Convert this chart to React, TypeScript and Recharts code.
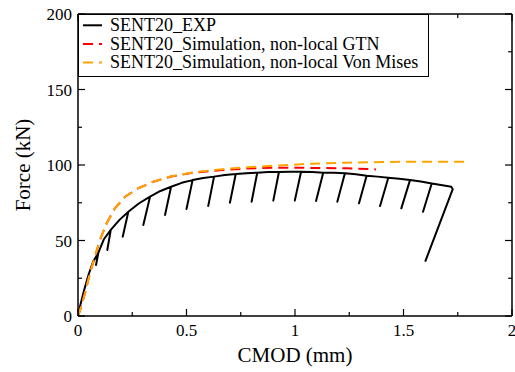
import React from 'react';
import { LineChart, Line, XAxis, YAxis } from 'recharts';

const FONT = '"Liberation Serif", "Times New Roman", Times, serif';

// SENT20_EXP (envelope with unloading/reloading segments)
const expCmod = [
  0, 0.012, 0.03, 0.05, 0.07,
  0.094, 0.083, 0.094,
  0.12,
  0.151, 0.135, 0.151,
  0.19,
  0.232, 0.206, 0.232,
  0.28,
  0.332, 0.301, 0.332,
  0.38,
  0.429, 0.401, 0.429,
  0.478,
  0.528, 0.5, 0.528,
  0.577,
  0.627, 0.6, 0.627,
  0.677,
  0.727, 0.7, 0.727,
  0.776,
  0.826, 0.8, 0.826,
  0.876,
  0.926, 0.9, 0.926,
  0.976,
  1.028, 0.999, 1.028,
  1.08,
  1.13, 1.097, 1.13,
  1.18,
  1.23, 1.195, 1.23,
  1.28,
  1.33, 1.295, 1.33,
  1.38,
  1.43, 1.392, 1.43,
  1.48,
  1.53, 1.49, 1.53,
  1.58,
  1.63, 1.59, 1.63,
  1.68, 1.72, 1.727, 1.6,
];
const expForce = [
  0, 8, 18, 28, 36,
  42, 33.8, 42,
  51,
  57, 43.7, 57,
  63.5,
  69, 52.5, 69,
  74.5,
  79, 60.3, 79,
  82.8,
  85.6, 66.9, 85.6,
  88.2,
  90, 70.9, 90,
  91.4,
  92.3, 72.8, 92.3,
  93.4,
  94, 75, 94,
  94.6,
  94.9, 75.7, 94.9,
  95.3,
  95.4, 76.4, 95.4,
  95.6,
  95.5, 76.4, 95.5,
  95.3,
  94.9, 76.2, 94.9,
  94.8,
  94.5, 75.7, 94.5,
  93.8,
  92.9, 74.6, 92.9,
  92.3,
  91.6, 72.8, 91.6,
  90.9,
  90, 71.3, 90,
  89,
  87.8, 69, 87.8,
  86.6, 85.6, 84, 36,
];

// SENT20_Simulation, non-local GTN
const gtnCmod = [0, 0.01, 0.032, 0.055, 0.078, 0.101, 0.132, 0.17, 0.217, 0.278, 0.347, 0.424, 0.531, 0.654, 0.777, 0.9, 1.054, 1.238, 1.373];
const gtnForce = [0, 4, 15, 28.3, 39.3, 50.3, 61.4, 71.3, 79, 84.6, 88.9, 92.2, 94.9, 96.6, 97.6, 98.2, 98.1, 97.8, 97.1];

// SENT20_Simulation, non-local Von Mises
const vmCmod = [0, 0.01, 0.032, 0.055, 0.078, 0.101, 0.132, 0.17, 0.217, 0.278, 0.347, 0.424, 0.531, 0.654, 0.777, 0.9, 1.054, 1.238, 1.4, 1.545, 1.803];
const vmForce = [0, 4, 15, 28.3, 39.3, 50.3, 61.4, 71.3, 79, 84.6, 88.9, 92.3, 95.2, 97.1, 98.5, 99.5, 100.7, 101.5, 102, 102.2, 102.2];

const xTicks = [0, 0.25, 0.5, 0.75, 1, 1.25, 1.5, 1.75, 2];
const yTicks = [0, 25, 50, 75, 100, 125, 150, 175, 200];
const xMajor = [0, 0.5, 1, 1.5, 2];
const yMajor = [0, 50, 100, 150, 200];

const seriesNames = ['SENT20_EXP', 'SENT20_Simulation, non-local GTN', 'SENT20_Simulation, non-local Von Mises'];
const seriesColors = ['#000000', '#ff0000', '#ffa500'];
const seriesDash = [undefined, '10 6', '10 6'];

const toData = (xs: number[], ys: number[]) => xs.map((x, i) => ({ x, y: ys[i] }));
const expData = toData(expCmod, expForce);
const gtnData = toData(gtnCmod, gtnForce);
const vmData = toData(vmCmod, vmForce);

const isMajor = (v: number, majors: number[]) => majors.some((m) => Math.abs(m - v) < 1e-9);
const MAJOR = 7;
const MINOR = 4;

const BottomTick = (props: any) => {
  const { x, y, payload } = props;
  const v = payload.value;
  const major = isMajor(v, xMajor);
  return (
    <g>
      <line x1={x} y1={y} x2={x} y2={y - (major ? MAJOR : MINOR)} stroke="#000" strokeWidth={1.2} />
      {major && (
        <text x={x} y={y + 20} textAnchor="middle" fontSize={17} fontFamily={FONT} fill="#000">
          {String(v)}
        </text>
      )}
    </g>
  );
};

const TopTick = (props: any) => {
  const { x, y, payload } = props;
  const major = isMajor(payload.value, xMajor);
  return <line x1={x} y1={y} x2={x} y2={y + (major ? MAJOR : MINOR)} stroke="#000" strokeWidth={1.2} />;
};

const LeftTick = (props: any) => {
  const { x, y, payload } = props;
  const v = payload.value;
  const major = isMajor(v, yMajor);
  return (
    <g>
      <line x1={x} y1={y} x2={x + (major ? MAJOR : MINOR)} y2={y} stroke="#000" strokeWidth={1.2} />
      {major && (
        <text x={x - 6} y={y + 6} textAnchor="end" fontSize={17} fontFamily={FONT} fill="#000">
          {String(v)}
        </text>
      )}
    </g>
  );
};

const RightTick = (props: any) => {
  const { x, y, payload } = props;
  const major = isMajor(payload.value, yMajor);
  return <line x1={x} y1={y} x2={x - (major ? MAJOR : MINOR)} y2={y} stroke="#000" strokeWidth={1.2} />;
};

const XLabel = (props: any) => {
  const vb = props.viewBox || { x: 78, y: 316, width: 434, height: 50 };
  return (
    <text x={vb.x + vb.width / 2} y={vb.y + 46} textAnchor="middle" fontSize={21} fontFamily={FONT} fill="#000">
      CMOD (mm)
    </text>
  );
};

const YLabel = (props: any) => {
  const vb = props.viewBox || { x: 18, y: 14, width: 60, height: 302 };
  const cx = vb.x + 12;
  const cy = vb.y + vb.height / 2;
  return (
    <text x={cx} y={cy} transform={`rotate(-90 ${cx} ${cy})`} textAnchor="middle" fontSize={21} fontFamily={FONT} fill="#000">
      Force (kN)
    </text>
  );
};

const LegendBox = () => (
  <div style={{ position: 'absolute', left: 78, top: 14, width: 351, height: 63 }}>
    <svg width={351} height={63}>
      <rect x={0.5} y={0.5} width={350} height={62} fill="#fff" stroke="#000" strokeWidth={1} />
      {seriesNames.map((name, i) => {
        const cy = 11.3 + i * 18.6;
        return (
          <g key={name}>
            <line x1={5} y1={cy} x2={24} y2={cy} stroke={seriesColors[i]} strokeWidth={2} strokeDasharray={seriesDash[i]} />
            <text x={32} y={cy + 5.8} fontSize={18} fontFamily={FONT} fill="#000">
              {name}
            </text>
          </g>
        );
      })}
    </svg>
  </div>
);

export default function App() {
  return (
    <div style={{ position: 'absolute', left: 0, top: 0, width: 515, height: 372, background: '#fff' }}>
      <LineChart width={515} height={372} margin={{ top: 4, right: 0, bottom: 6, left: 18 }}>
        <XAxis
          xAxisId={0}
          dataKey="x"
          type="number"
          domain={[0, 2]}
          ticks={xTicks}
          interval={0}
          height={50}
          tickSize={0}
          tickMargin={0}
          tick={<BottomTick />}
          tickLine={false}
          axisLine={{ stroke: '#000', strokeWidth: 1.5 }}
          allowDataOverflow
          label={<XLabel />}
        />
        <XAxis
          xAxisId="top"
          orientation="top"
          dataKey="x"
          type="number"
          domain={[0, 2]}
          ticks={xTicks}
          interval={0}
          height={10}
          tickSize={0}
          tickMargin={0}
          tick={<TopTick />}
          tickLine={false}
          axisLine={{ stroke: '#000', strokeWidth: 1.5 }}
          allowDataOverflow
        />
        <YAxis
          yAxisId={0}
          type="number"
          domain={[0, 200]}
          ticks={yTicks}
          interval={0}
          width={60}
          tickSize={0}
          tickMargin={0}
          tick={<LeftTick />}
          tickLine={false}
          axisLine={{ stroke: '#000', strokeWidth: 1.5 }}
          allowDataOverflow
          label={<YLabel />}
        />
        <YAxis
          yAxisId="right"
          orientation="right"
          type="number"
          domain={[0, 200]}
          ticks={yTicks}
          interval={0}
          width={3}
          tickSize={0}
          tickMargin={0}
          tick={<RightTick />}
          tickLine={false}
          axisLine={{ stroke: '#000', strokeWidth: 1.5 }}
          allowDataOverflow
        />
        <Line data={expData} dataKey="y" type="linear" stroke={seriesColors[0]} strokeWidth={2} strokeLinejoin="round" dot={false} activeDot={false} isAnimationActive={false} />
        <Line data={gtnData} dataKey="y" type="linear" stroke={seriesColors[1]} strokeWidth={2} strokeDasharray={seriesDash[1]} dot={false} activeDot={false} isAnimationActive={false} />
        <Line data={vmData} dataKey="y" type="linear" stroke={seriesColors[2]} strokeWidth={2} strokeDasharray={seriesDash[2]} dot={false} activeDot={false} isAnimationActive={false} />
      </LineChart>
      <LegendBox />
    </div>
  );
}
